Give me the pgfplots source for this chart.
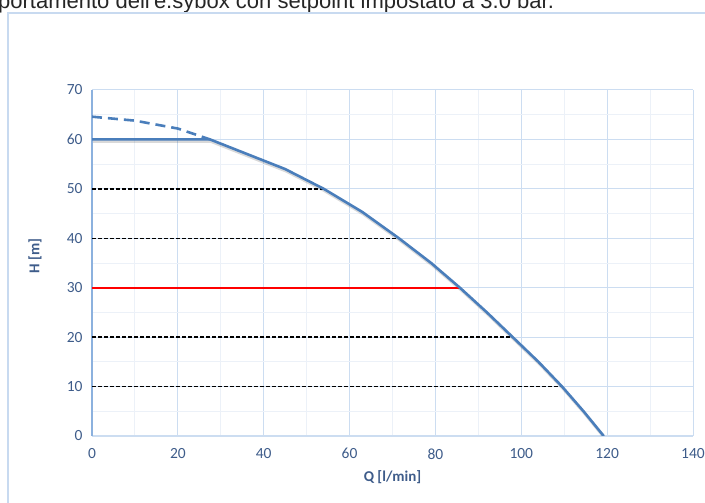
\documentclass[border=0pt]{standalone}
\usepackage{pgfplots}
\pgfplotsset{compat=1.18}
\usepackage{fontspec}
\setmainfont{Carlito}
\newfontfamily\arial{Liberation Sans}

\definecolor{curve}{RGB}{74,126,187}
\definecolor{ticktext}{RGB}{62,92,138}
\definecolor{gmaj}{RGB}{204,221,241}
\definecolor{gmin}{RGB}{236,241,248}
\definecolor{framec}{RGB}{200,218,240}
\definecolor{yaxisc}{RGB}{140,177,222}

\begin{document}
\begin{tikzpicture}
\path[use as bounding box] (0pt,0pt) rectangle (705pt,503pt);
% text of the page above the chart, cut by the screenshot
\node[anchor=base west, inner sep=0pt, font=\arial\fontsize{22}{25}\selectfont, black!85]
  at (-2pt,494pt) {portamento dell'e.sybox con setpoint impostato a 3.0 bar.};
% chart area border
\draw[framec, line width=1.3pt] (8pt,-10pt) -- (8pt,490pt) -- (720pt,490pt);

\begin{axis}[
    at={(92pt,67pt)}, anchor=south west,
    scale only axis, width=601pt, height=346pt,
    xmin=0, xmax=140, ymin=0, ymax=70,
    xtick={0,20,...,140}, ytick={0,10,...,70},
    minor x tick num=1, minor y tick num=1,
    grid=both,
    major grid style={gmaj, line width=1pt},
    minor grid style={gmin, line width=0.9pt},
    axis x line*=bottom, axis y line*=left,
    x axis line style={gmaj, line width=1.2pt},
    y axis line style={yaxisc, line width=1.2pt},
    major tick length=0pt, minor tick length=0pt,
    /pgf/number format/assume math mode=true,
    ticklabel style={font=\fontsize{15.5}{18}\selectfont, text=ticktext},
    xticklabel style={yshift=-9pt},
    yticklabel style={xshift=-6pt},
    xlabel={Q [l/min]}, ylabel={H [m]},
    label style={font=\bfseries\fontsize{15}{17}\selectfont, text=ticktext},
    xlabel style={at={(axis description cs:0.5,-0.118)}, anchor=center},
    ylabel style={at={(axis description cs:-0.095,0.52)}, anchor=center},
]
% shadow of the pump curve
\addplot[black, opacity=0.15, line width=3pt, line join=round,
         transform canvas={xshift=1pt, yshift=-2pt}]
  coordinates {(0,60)(27.5,60)(45,54)(54,50)(63,45.3)(71.5,40)(79,35)(85.7,30)
               (92,25)(98,20)(104,15)(109.5,10)(114.5,5)(119.2,0)};

% set pressure lines
\addplot[black, line width=1.3pt, dash pattern=on 4pt off 2pt] coordinates {(0,50)(54,50)};
\addplot[black, line width=1.3pt, dash pattern=on 4pt off 2pt] coordinates {(0,40)(71.5,40)};
\addplot[black, line width=1.3pt, dash pattern=on 4pt off 2pt] coordinates {(0,20)(98,20)};
\addplot[black, line width=1.3pt, dash pattern=on 4pt off 2pt] coordinates {(0,10)(109.5,10)};
\addplot[red, line width=2pt] coordinates {(0,30)(85.7,30)};

% curve without limit (dashed)
\addplot[curve, line width=2.6pt, dash pattern=on 10pt off 6pt]
  coordinates {(0,64.6)(10,63.8)(20,62.2)(27.5,60)};
% pump curve with setpoint
\addplot[curve, line width=2.6pt, line join=round]
  coordinates {(0,60)(27.5,60)(45,54)(54,50)(63,45.3)(71.5,40)(79,35)(85.7,30)
               (92,25)(98,20)(104,15)(109.5,10)(114.5,5)(119.2,0)};
\end{axis}
\end{tikzpicture}
\end{document}
